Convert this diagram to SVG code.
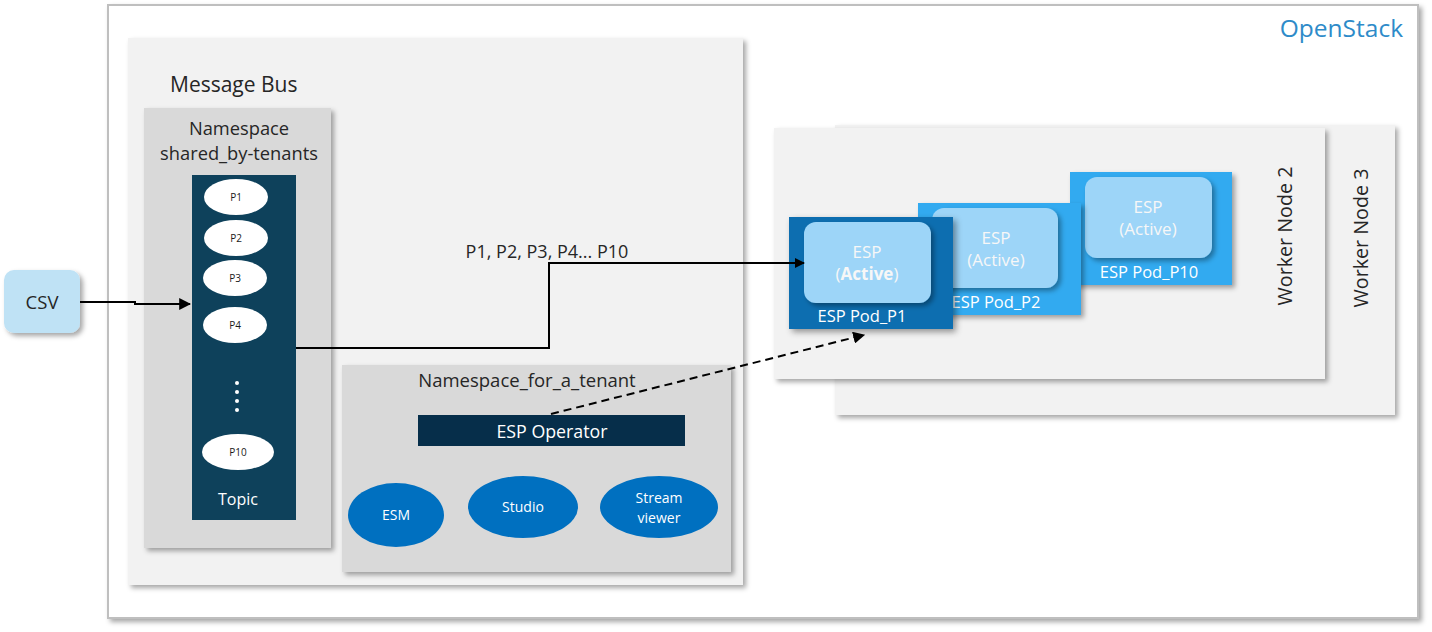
<svg xmlns="http://www.w3.org/2000/svg" width="1432" height="632" viewBox="0 0 1432 632">
<defs>
<filter id="sh" x="-10%" y="-10%" width="130%" height="130%">
<feDropShadow dx="3" dy="3" stdDeviation="2.5" flood-color="#000" flood-opacity="0.35"/>
</filter>
<filter id="sh2" x="-10%" y="-10%" width="130%" height="130%">
<feDropShadow dx="3" dy="3" stdDeviation="3" flood-color="#000" flood-opacity="0.4"/>
</filter>
<marker id="ah" viewBox="0 0 10 10" refX="9" refY="5" markerWidth="10" markerHeight="10" markerUnits="userSpaceOnUse" orient="auto">
<path d="M0,0 L10,5 L0,10 z" fill="#000"/>
</marker>
<marker id="ah2" viewBox="0 0 10 10" refX="9" refY="5" markerWidth="12" markerHeight="12" markerUnits="userSpaceOnUse" orient="auto">
<path d="M0,0 L10,5 L0,10 z" fill="#000"/>
</marker>
</defs>
<style>
text{font-family:"Open Sans","Noto Sans","Liberation Sans",sans-serif}
.dk{fill:#262626}
.wt{fill:#ffffff}
.pt{fill:#f7f7f7;font-size:17px}
.pe{fill:#ffffff}
.pl{font-size:10px;fill:#1a1a1a}
.bl{fill:#0070c0}
.panel{fill:#f2f2f2}
.ns{fill:#d9d9d9}
.pod{font-size:16.5px;fill:#ffffff}
</style>
<g id="openstack">
<rect x="108" y="5" width="1310" height="613" fill="#ffffff" stroke="#bfbfbf" stroke-width="2" filter="url(#sh)"/>
<text x="1403" y="37" text-anchor="end" font-size="24.5" fill="#2e8bc9">OpenStack</text>
</g>
<g id="message-bus">
<rect x="128" y="38" width="615" height="547" class="panel" filter="url(#sh)"/>
<text x="170" y="92" font-size="21" class="dk">Message Bus</text>
</g>
<g id="namespace-shared">
<rect x="144" y="108" width="187" height="440" class="ns" filter="url(#sh)"/>
<text x="239" y="135" text-anchor="middle" font-size="18.3" class="dk">Namespace</text>
<text x="239" y="160" text-anchor="middle" font-size="18.3" class="dk">shared_by-tenants</text>
</g>
<g id="topic">
<rect x="192" y="175" width="104" height="345" fill="#0e415b"/>
<ellipse cx="236" cy="197" rx="32" ry="18" class="pe"/>
<text x="236" y="201" text-anchor="middle" class="pl">P1</text>
<ellipse cx="236" cy="238" rx="32" ry="18" class="pe"/>
<text x="236" y="242" text-anchor="middle" class="pl">P2</text>
<ellipse cx="235" cy="278" rx="32" ry="18" class="pe"/>
<text x="235" y="282" text-anchor="middle" class="pl">P3</text>
<ellipse cx="235" cy="325" rx="32" ry="18" class="pe"/>
<text x="235" y="329" text-anchor="middle" class="pl">P4</text>
<circle cx="237" cy="383" r="2" fill="#fff"/>
<circle cx="237" cy="392" r="2" fill="#fff"/>
<circle cx="237" cy="401" r="2" fill="#fff"/>
<circle cx="237" cy="410" r="2" fill="#fff"/>
<ellipse cx="238" cy="452" rx="36" ry="18" class="pe"/>
<text x="238" y="456" text-anchor="middle" class="pl">P10</text>
<text x="238" y="505" text-anchor="middle" font-size="16" class="wt">Topic</text>
</g>
<g id="csv">
<rect x="4" y="270" width="76" height="63" rx="10" fill="#bfe2f5" filter="url(#sh)"/>
<text x="42" y="309" text-anchor="middle" font-size="18.5" class="dk">CSV</text>
</g>
<g id="namespace-tenant">
<rect x="342" y="365" width="389" height="207" class="ns" filter="url(#sh)"/>
<text x="527" y="387" text-anchor="middle" font-size="18.5" class="dk">Namespace_for_a_tenant</text>
</g>
<g id="esp-operator">
<rect x="418" y="415" width="267" height="31" fill="#062e4a"/>
<text x="552" y="438" text-anchor="middle" font-size="17.8" class="wt">ESP Operator</text>
</g>
<g id="esm">
<ellipse cx="396" cy="515" rx="48" ry="32" class="bl"/>
<text x="396" y="520" text-anchor="middle" font-size="14" class="wt">ESM</text>
</g>
<g id="studio">
<ellipse cx="523" cy="507" rx="55" ry="31" class="bl"/>
<text x="523" y="512" text-anchor="middle" font-size="14" class="wt">Studio</text>
</g>
<g id="stream-viewer">
<ellipse cx="659" cy="507" rx="59" ry="31" class="bl"/>
<text x="659" y="503" text-anchor="middle" font-size="14" class="wt">Stream</text>
<text x="659" y="523" text-anchor="middle" font-size="14" class="wt">viewer</text>
</g>
<g id="worker-node-3">
<rect x="835" y="125" width="560" height="290" class="panel" filter="url(#sh)"/>
<text transform="translate(1368,238) rotate(-90)" text-anchor="middle" font-size="19.7" class="dk">Worker Node 3</text>
</g>
<g id="worker-node-2">
<rect x="774" y="128" width="551" height="251" class="panel" filter="url(#sh)"/>
<text transform="translate(1292,236) rotate(-90)" text-anchor="middle" font-size="19.7" class="dk">Worker Node 2</text>
</g>
<g id="pod-p10">
<rect x="1070" y="172" width="162" height="113" fill="#31aaf0" filter="url(#sh)"/>
<rect x="1085" y="177" width="127" height="81" rx="12" fill="#9dd5f8" filter="url(#sh)"/>
<text x="1148" y="213" text-anchor="middle" class="pt">ESP</text>
<text x="1148" y="235" text-anchor="middle" class="pt">(Active)</text>
<text x="1149" y="278" text-anchor="middle" class="pod">ESP Pod_P10</text>
</g>
<g id="pod-p2">
<rect x="918" y="203" width="163" height="112" fill="#31aaf0" filter="url(#sh)"/>
<rect x="932" y="208" width="126" height="80" rx="12" fill="#9dd5f8" filter="url(#sh)"/>
<text x="996" y="244" text-anchor="middle" class="pt">ESP</text>
<text x="996" y="266" text-anchor="middle" class="pt">(Active)</text>
<text x="996" y="308" text-anchor="middle" class="pod">ESP Pod_P2</text>
</g>
<g id="pod-p1">
<rect x="789" y="217" width="164" height="112" fill="#0a6eb0" filter="url(#sh2)"/>
<rect x="804" y="222" width="127" height="81" rx="12" fill="#9dd5f8" filter="url(#sh)"/>
<text x="867" y="258" text-anchor="middle" class="pt">ESP</text>
<text x="867" y="280" text-anchor="middle" class="pt">(<tspan font-weight="bold">Active</tspan>)</text>
<text x="862" y="322" text-anchor="middle" class="pod">ESP Pod_P1</text>
</g>
<g id="connectors" fill="none" stroke="#000">
<path d="M80,302 L135,302 L135,304 L190,304" stroke-width="2" marker-end="url(#ah2)"/>
<path d="M296,348 L549,348 L549,263 L804,263" stroke-width="2" marker-end="url(#ah)"/>
<path d="M551,414 L864,335" stroke-width="2" stroke-dasharray="8,5" marker-end="url(#ah2)"/>
</g>
<text x="547" y="258" text-anchor="middle" font-size="18" class="dk">P1, P2, P3, P4... P10</text>
</svg>
